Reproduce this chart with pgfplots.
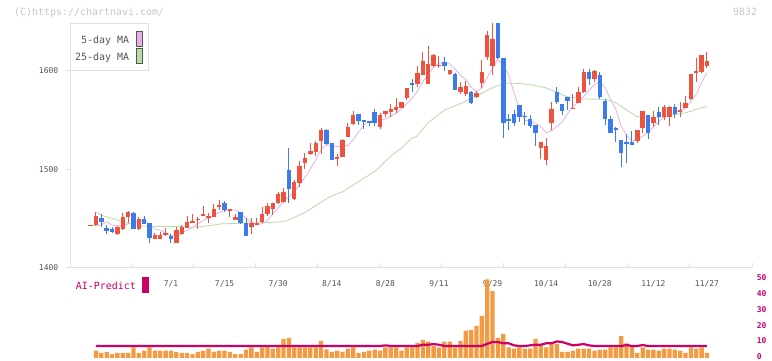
\documentclass[border=0pt]{standalone}
\usepackage{pgfplots}
\usepackage{pgfplotstable}
\pgfplotsset{compat=1.18}
\usepackage{fontspec}
\newfontfamily\mono{DejaVu Sans Mono}
\definecolor{upred}{HTML}{EF5340}
\definecolor{downblue}{HTML}{3E7BEA}
\definecolor{maf}{HTML}{E6B0EA}
\definecolor{mat}{HTML}{B6DCA8}
\definecolor{volc}{HTML}{F29B43}
\definecolor{aimag}{HTML}{CC0066}
\definecolor{axisgray}{HTML}{E0E0E0}
\definecolor{textgray}{HTML}{555555}
\definecolor{headgray}{HTML}{C8C8C8}

\pgfplotstableread{
i o h l c
0 1443 1443 1443 1443
1 1443 1456.6 1442 1452.3
2 1450.5 1454.5 1441.6 1446.4
3 1440.3 1443 1434 1436.9
4 1439.6 1441.6 1435 1436.2
5 1434 1442 1433 1441
6 1439 1455.3 1438 1451.2
7 1451.2 1457 1445.7 1456.6
8 1455.3 1456.6 1439 1439.6
9 1439.6 1451 1438 1449.8
10 1449.8 1452.5 1444 1444.4
11 1445 1445.5 1425.3 1430
12 1429.4 1435 1428.7 1432.9
13 1429.4 1436.2 1429 1433.5
14 1433 1440 1432 1435
15 1432.2 1434 1425.3 1428.8
16 1425.3 1441 1425.3 1438.2
17 1434.2 1443 1433 1441
18 1440.3 1452.5 1440 1446.4
19 1445.7 1454.5 1445 1447.8
20 1448.4 1451 1439 1449.8
21 1453 1462.7 1452 1454
22 1450.5 1455 1445 1452.5
23 1451.2 1464.7 1451 1460
24 1462 1468.8 1458 1464
25 1465.4 1468 1456.6 1458.6
26 1458.3 1460 1451.2 1459
27 1448.4 1454 1448 1451.8
28 1456.6 1456.6 1444 1445
29 1445 1450.5 1432 1432.2
30 1441 1450.5 1434 1445
31 1443.6 1450 1443 1445.7
32 1446.4 1462 1445 1454.5
33 1454 1466 1452.5 1462.7
34 1459 1466 1453 1466
35 1466 1476.4 1465 1474.5
36 1466.7 1481 1466 1476.9
37 1499.3 1521.9 1466 1480.3
38 1470 1489 1469 1487
39 1486.3 1508.8 1482.3 1503.4
40 1506.7 1516.3 1500 1511.5
41 1515 1526.5 1514 1518.6
42 1517 1529.1 1513 1527.1
43 1529.1 1541.5 1515 1540
44 1540 1540.5 1525 1525.7
45 1526.4 1526.4 1509 1509.5
46 1510.8 1515 1503.4 1512.8
47 1512.8 1530.5 1512 1530
48 1533.2 1546.8 1532.5 1542.7
49 1546 1559 1545 1554.9
50 1556.3 1556.3 1544.6 1549.4
51 1550 1550 1540.7 1548
52 1548.8 1549 1544 1547.4
53 1558.3 1561.7 1544 1546.8
54 1542.7 1557 1541 1555
55 1556.3 1559 1553 1559
56 1558.3 1566.4 1553.5 1561
57 1560 1572.5 1557 1563
58 1562.7 1568.2 1562 1568.2
59 1572.9 1582.4 1570 1582.4
60 1587.8 1591.9 1578.3 1586.5
61 1586.5 1604.8 1583.7 1598
62 1596 1619.7 1595.5 1610.2
63 1587.1 1625.2 1587 1606.8
64 1605.4 1617.6 1604 1616.3
65 1605 1615 1603 1606
66 1609.5 1614.2 1600 1605.4
67 1597.3 1601 1596 1600.7
68 1597.3 1597.5 1581 1581
69 1579 1589 1576.8 1583.7
70 1576.8 1589.8 1574.9 1585
71 1578.3 1580 1566.7 1567.4
72 1573.5 1580 1572.2 1577.6
73 1587.8 1611 1582.4 1599.3
74 1614.2 1640.7 1611 1636.6
75 1605.4 1660 1596 1632.6
76 1652 1660 1612 1613.6
77 1613.6 1613.6 1532.2 1546.5
78 1551.2 1556.6 1540.3 1549.1
79 1556 1560 1543.7 1546.5
80 1565.4 1565.4 1548.4 1553.2
81 1554.5 1558.6 1545 1553.2
82 1551 1555 1541.7 1544.4
83 1545 1545 1523.4 1537
84 1522 1528 1510.5 1528
85 1509.2 1531.5 1504.4 1523.4
86 1547.4 1568.5 1540 1561.7
87 1578.6 1584 1566.4 1568.5
88 1566.4 1566.4 1555 1559
89 1573.2 1573.2 1560.3 1569.8
90 1562 1576.6 1561.7 1562.5
91 1567.8 1584 1567.8 1578.6
92 1578.6 1601.7 1578 1599
93 1599 1601.7 1586 1591.6
94 1592.2 1601 1589 1599.7
95 1595.6 1599 1571.8 1573.9
96 1569.2 1571.2 1544.8 1550.9
97 1550.9 1554.2 1537.2 1537.2
98 1542 1543.3 1527.8 1540.7
99 1529.8 1529.8 1502.6 1516.3
100 1527.8 1536 1506 1526.4
101 1527.8 1539.3 1525 1525
102 1528.5 1540 1526.4 1540
103 1542 1559.7 1537.2 1559.7
104 1555 1555 1531.1 1536.6
105 1546.8 1559.6 1543.3 1553
106 1558.3 1563.7 1544.8 1553
107 1553 1565 1550 1563.4
108 1553 1564 1544 1563.4
109 1563.7 1566.4 1552 1556.3
110 1559 1568.5 1553 1559.7
111 1562.4 1574.6 1562 1567.8
112 1571.8 1597 1570.5 1597
113 1599 1613.2 1588.8 1599.7
114 1599 1616.6 1597.7 1616.6
115 1605 1619.3 1603 1610.2
}\ohlc

\pgfplotstableread{
i m
1 1442.0
2 1443.5
3 1446.5
4 1443.0
5 1442.6
6 1442.3
7 1444.4
8 1444.9
9 1447.6
10 1448.3
11 1444.1
12 1439.3
13 1438.1
14 1435.2
15 1432.0
16 1433.7
17 1435.3
18 1437.9
19 1440.4
20 1444.6
21 1447.8
22 1450.1
23 1452.8
24 1456.1
25 1457.8
26 1458.8
27 1458.7
28 1455.7
29 1449.3
30 1446.6
31 1443.9
32 1444.5
33 1448.0
34 1454.8
35 1460.7
36 1466.9
37 1472.1
38 1476.9
39 1484.4
40 1491.8
41 1500.2
42 1509.5
43 1520.1
44 1524.6
45 1524.2
46 1523.0
47 1523.6
48 1524.1
49 1530.0
50 1538.0
51 1545.0
52 1548.5
53 1549.3
54 1549.3
55 1551.2
56 1553.8
57 1557.0
58 1561.2
59 1566.7
60 1572.2
61 1579.6
62 1589.1
63 1596.8
64 1603.6
65 1607.5
66 1608.9
67 1607.0
68 1601.9
69 1595.4
70 1591.2
71 1583.6
72 1578.9
73 1582.6
74 1593.2
75 1602.7
76 1611.9
77 1605.7
78 1595.7
79 1577.7
80 1561.8
81 1549.7
82 1549.3
83 1546.9
84 1543.2
85 1537.2
86 1538.9
87 1543.7
88 1548.1
89 1556.5
90 1564.3
91 1567.7
92 1573.8
93 1580.3
94 1586.3
95 1588.6
96 1583.0
97 1570.7
98 1560.5
99 1543.8
100 1534.3
101 1529.1
102 1529.7
103 1533.5
104 1537.5
105 1542.9
106 1548.5
107 1553.1
108 1553.9
109 1557.8
110 1559.2
111 1562.1
112 1568.8
113 1576.1
114 1588.2
115 1598.3
}\mafive

\pgfplotstableread{
i m
1.1 1455.9
2.7 1451.8
4.6 1449.1
7.0 1445.0
9.5 1442.3
13.3 1441.6
17.0 1441.6
18.9 1441.0
20.7 1441.6
22.6 1443.0
24.5 1444.4
28.2 1445.0
33.5 1445.7
36.0 1446.7
37.8 1450.2
40.3 1456.9
42.2 1463.7
44.7 1472.2
47.1 1477.3
49.0 1484.0
51.5 1492.5
53.4 1499.3
55.9 1512.8
58.3 1523.0
59.9 1531.5
60.8 1533.2
63.0 1547.5
66.1 1560.3
69.2 1567.1
72.3 1575.6
75.4 1584.0
77.3 1587.5
79.2 1587.5
82.3 1585.8
84.8 1583.0
86.6 1579.0
88.8 1573.9
91.9 1571.5
96.3 1571.0
98.2 1567.0
100.0 1560.3
101.9 1553.5
103.7 1552.9
106.2 1552.9
108.7 1555.2
111.2 1557.6
113.7 1562.1
115.0 1563.7
}\matwentyfive

\pgfplotstableread{
i v
1 4.6
2 3.2
3 3.8
4 2.5
5 3.2
6 3.2
7 3.2
8 6.8
9 3.2
10 4.6
11 6.8
12 4.6
13 4.6
14 4.6
15 4.6
16 3.8
17 3.2
18 3.2
19 2.5
20 3.8
21 4.6
22 5.9
23 3.8
24 4.6
25 4.6
26 3.8
27 2.5
28 2.5
29 5.3
30 6.8
31 3.8
32 6.8
33 6.8
34 5.9
35 6.8
36 12.0
37 12.7
38 6.8
39 6.8
40 6.8
41 6.8
42 6.8
43 10.8
44 5.4
45 3.8
46 4.6
47 3.8
48 5.9
49 6.8
50 3.2
51 3.8
52 4.6
53 5.3
54 4.6
55 6.8
56 6.8
57 6.8
58 4.6
59 6.8
60 6.8
61 9.5
62 11.4
63 10.3
64 7.6
65 6.8
66 10.3
67 10.3
68 6.8
69 10.9
70 17.3
71 17.7
72 20.3
73 26.6
74 49.8
75 42.4
76 12.7
77 15.2
78 6.8
79 5.9
80 6.8
81 5.9
82 5.9
83 12.0
84 8.2
85 6.8
86 8.9
87 8.9
88 3.8
89 3.8
90 4.6
91 5.9
92 5.9
93 5.9
94 4.6
95 5.3
96 5.3
97 6.8
98 6.8
99 13.9
100 9.3
101 7.6
102 3.2
103 6.8
104 5.3
105 5.3
106 4.6
107 5.9
108 5.9
109 5.3
110 4.6
111 3.2
112 6.8
113 5.9
114 6.8
115 3.2
}\vol

\pgfplotstableread{
i a
1 7.6
54 7.6
55 8.0
56 7.6
61 7.6
62 8.4
63 8.4
64 8.8
65 8.4
66 7.6
73 7.6
74 9.0
75 10.1
76 10.1
77 9.3
78 9.3
79 8.0
80 7.6
81 7.6
82 8.0
83 8.4
84 8.4
85 9.3
86 9.3
87 10.5
88 10.1
89 9.0
90 8.0
91 8.4
92 8.8
93 8.0
94 7.6
99 7.6
100 8.2
101 7.6
102 7.6
103 8.2
104 7.6
115 7.6
}\aipred

\pgfplotsset{
  candle/.style n args={2}{draw=none, mark=none, forget plot,
    error bars/.cd, y dir=both, y explicit, error mark=none,
    error bar style={draw=#1, line width=#2, solid}, /pgfplots/.cd},
}

\begin{document}
\begin{tikzpicture}
\useasboundingbox (0bp,0bp) rectangle (772bp,361bp);
\fill[white] (0bp,0bp) rectangle (772bp,361bp);

% main price panel
\begin{axis}[
  at={(70bp,93.5bp)}, anchor=south west,
  scale only axis, width=682bp, height=243.8bp,
  xmin=-3.84, xmax=123.4, ymin=1400, ymax=1648,
  axis x line*=bottom, axis y line*=left,
  axis line style={-, draw=axisgray, line width=1bp},
  tick align=inside, major tick length=4bp,
  every tick/.style={draw=axisgray, line width=1bp},
  xtick={7.72,19.29,30.85,42.42,53.98,65.54,77.11,88.67,100.24,111.8,123.4},
  xticklabels={},
  extra x ticks={15,25,35,45,55,65,75,85,95,105,115},
  extra x tick labels={7/1,7/15,7/30,8/14,8/28,9/11,9/29,10/14,10/28,11/12,11/27},
  extra x tick style={major tick length=0bp},
  xticklabel style={yshift=-9.5bp},
  ytick={1400,1500,1600}, yticklabels={1400,1500,1600},
  ytick style={xshift=-4bp},
  yticklabel style={xshift=-8.3bp},
  every tick label/.append style={font=\mono\fontsize{8}{9.6}\selectfont, text=textgray},
]
\addplot[maf, line width=0.8bp, mark=none, forget plot] table[x=i, y=m] {\mafive};
\addplot[mat, line width=0.8bp, mark=none, forget plot] table[x=i, y=m] {\matwentyfive};
% up candles: wicks then bodies
\addplot[restrict expr to domain={\thisrow{c}-\thisrow{o}}{0:1000}, candle={upred}{1bp}]
  table[x=i, y expr={(\thisrow{h}+\thisrow{l})/2}, y error expr={(\thisrow{h}-\thisrow{l})/2}] {\ohlc};
\addplot[restrict expr to domain={\thisrow{c}-\thisrow{o}}{0:1000}, candle={upred}{4.4bp}]
  table[x=i, y expr={(\thisrow{o}+\thisrow{c})/2}, y error expr={max(abs(\thisrow{c}-\thisrow{o})/2,0.5)}] {\ohlc};
% down candles
\addplot[restrict expr to domain={\thisrow{c}-\thisrow{o}}{-1000:-0.001}, candle={downblue}{1bp}]
  table[x=i, y expr={(\thisrow{h}+\thisrow{l})/2}, y error expr={(\thisrow{h}-\thisrow{l})/2}] {\ohlc};
\addplot[restrict expr to domain={\thisrow{c}-\thisrow{o}}{-1000:-0.001}, candle={downblue}{4.4bp}]
  table[x=i, y expr={(\thisrow{o}+\thisrow{c})/2}, y error expr={max(abs(\thisrow{c}-\thisrow{o})/2,0.5)}] {\ohlc};
\end{axis}

% volume / AI panel
\begin{axis}[
  at={(70bp,3bp)}, anchor=south west,
  scale only axis, width=682bp, height=79bp,
  xmin=-3.84, xmax=123.4, ymin=0, ymax=50,
  axis x line=none, axis y line=right,
  axis line style={draw=none},
  major tick length=0bp,
  ytick={0,10,20,30,40,50}, yticklabels={0,10,20,30,40,50},
  yticklabel style={font=\mono\bfseries\fontsize{8}{9.6}\selectfont, text=aimag, xshift=1.3bp, yshift=1.2bp},
]
\addplot[ybar, bar width=4.3bp, fill=volc, draw=none] table[x=i, y=v] {\vol};
\addplot[aimag, line width=2.2bp, mark=none] table[x=i, y=a] {\aipred};
\end{axis}

% header texts
\node[anchor=west, text=headgray, font=\mono\fontsize{10}{12}\selectfont, inner sep=0pt] at (14bp,348.7bp) {(C)https://chartnavi.com/};
\node[anchor=east, text=headgray, font=\mono\fontsize{10}{12}\selectfont, inner sep=0pt] at (757.3bp,349bp) {9832};

% MA legend
\draw[draw=axisgray, fill=white, line width=1bp] (70bp,290bp) rectangle (148.3bp,337bp);
\node[anchor=east, text=textgray, font=\mono\fontsize{10}{12}\selectfont, inner sep=0pt] at (129.3bp,320.3bp) {5-day MA};
\draw[draw=textgray, fill=maf, line width=0.8bp] (136.3bp,314.3bp) rectangle (142.7bp,329.7bp);
\node[anchor=east, text=textgray, font=\mono\fontsize{10}{12}\selectfont, inner sep=0pt] at (129.3bp,303.7bp) {25-day MA};
\draw[draw=textgray, fill=mat, line width=0.8bp] (136.3bp,297.7bp) rectangle (142.7bp,312.7bp);

% AI-Predict legend
\node[anchor=west, text=aimag, font=\mono\fontsize{10}{12}\selectfont, inner sep=0pt] at (75.7bp,75bp) {AI-Predict};
\fill[aimag] (142bp,68.3bp) rectangle (149bp,84bp);
\end{tikzpicture}
\end{document}
